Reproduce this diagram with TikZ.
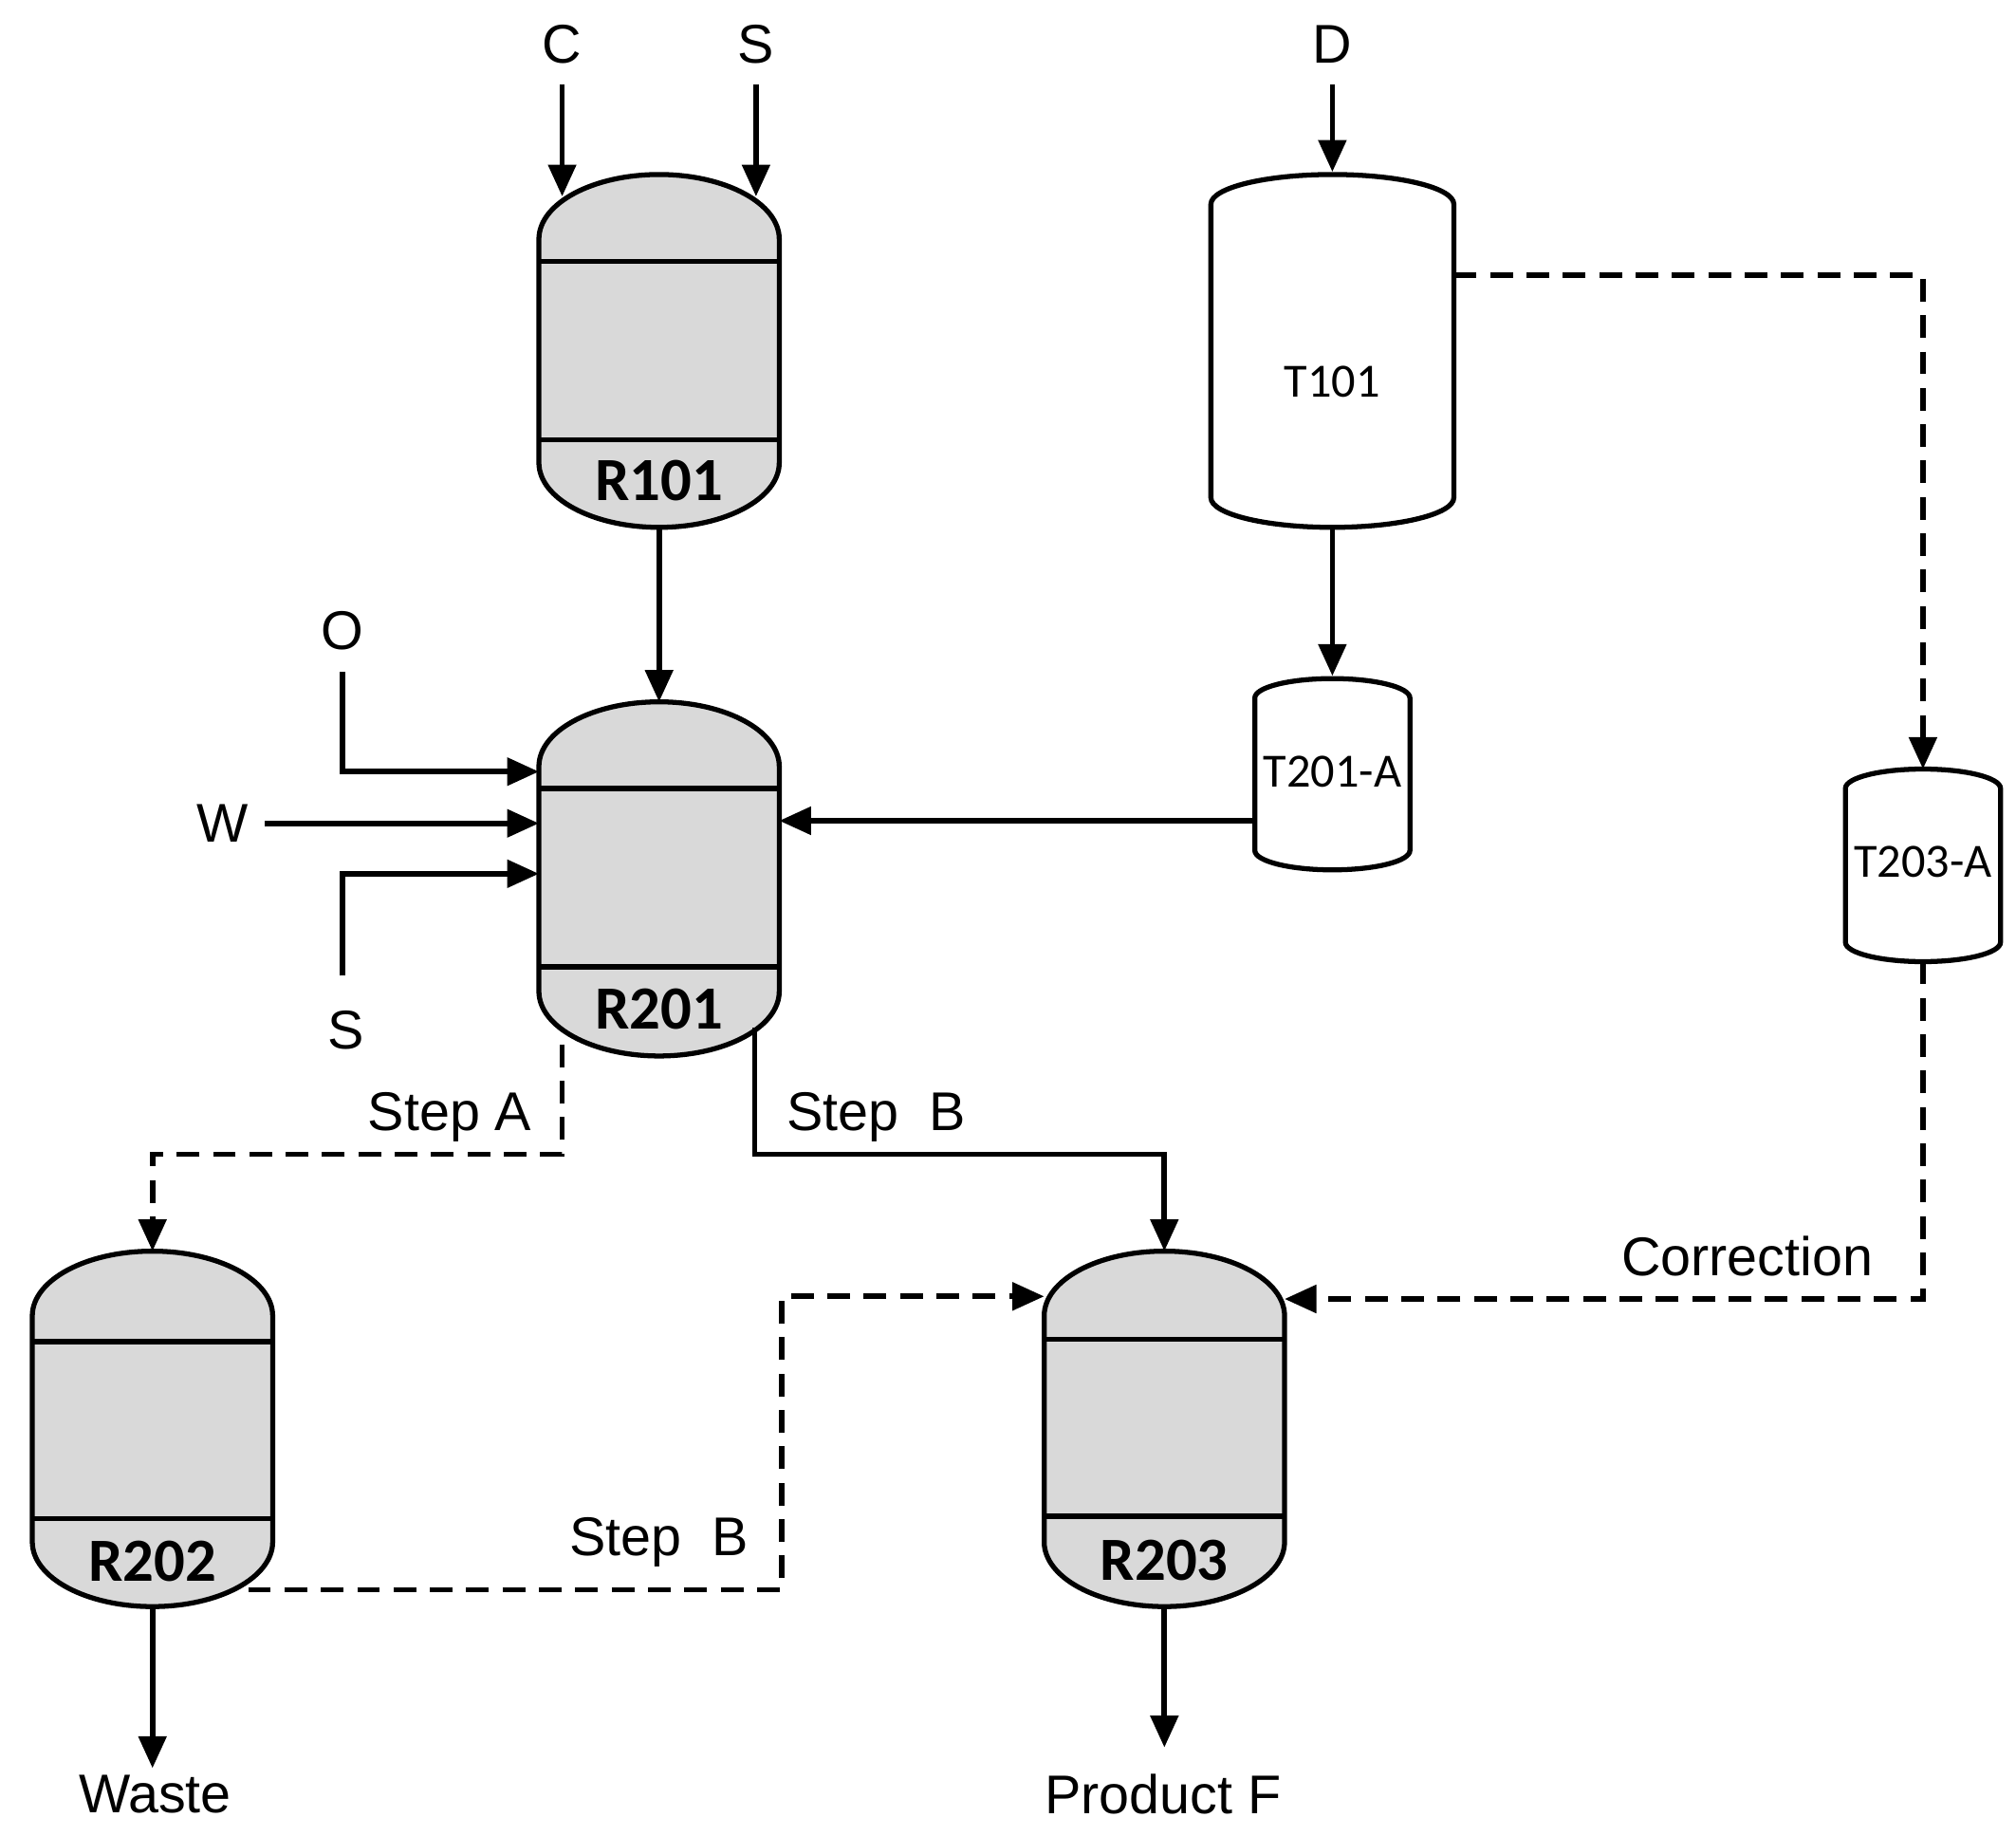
\documentclass[tikz,border=0pt]{standalone}
\usepackage{fontspec}
\setmainfont{Liberation Sans}
\newfontfamily\calib{Carlito}
\usetikzlibrary{arrows.meta}
\definecolor{vgray}{RGB}{217,217,217}
\tikzset{
  flow/.style={line width=1.2pt,-{Triangle[length=7pt,width=6pt]}},
  line/.style={line width=1.2pt},
  dflow/.style={flow,dash pattern=on 5pt off 3pt},
  lbl/.style={font=\fontsize{12}{14}\selectfont,inner sep=0pt},
  vlbl/.style={font=\calib\bfseries\fontsize{13.5}{15}\selectfont,inner sep=0pt},
  tlbl/.style={font=\calib\fontsize{10.5}{12}\selectfont,inner sep=0pt},
  shell/.style={line width=1.1pt}
}
% #1 cx, #2 top, #3 bottom, #4 ry, #5 fill, #6 half width
\newcommand\drawvessel[6]{%
  \filldraw[shell,fill=#5] ({#1-#6},{#2+#4}) arc[start angle=180,end angle=360,x radius=#6,y radius=#4]
    -- ({#1+#6},{#3-#4}) arc[start angle=0,end angle=180,x radius=#6,y radius=#4] -- cycle;}
\newcommand\bands[4]{% cx, y1, y2, hw
  \draw[shell] ({#1-#4},#2) -- ({#1+#4},#2) ({#1-#4},#3) -- ({#1+#4},#3);}
\begin{document}
\begin{tikzpicture}[x=0.01cm,y=-0.01cm]
\useasboundingbox (0,0) rectangle (1560,1420);
% vessels
\drawvessel{510}{135}{408}{50}{vgray}{93}\bands{510}{202}{340}{93}
\drawvessel{510}{543}{817}{50}{vgray}{93}\bands{510}{610}{748}{93}
\drawvessel{118}{968}{1243}{50}{vgray}{93}\bands{118}{1038}{1175}{93}
\drawvessel{901}{968}{1243}{50}{vgray}{93}\bands{901}{1036}{1173}{93}
\drawvessel{1031}{135}{408}{23}{white}{94}
\drawvessel{1031}{525}{673}{15}{white}{60}
\drawvessel{1488}{595}{744}{15}{white}{60}
\node[vlbl] (r101) at (510,372) {R101};
\node[vlbl] (r201) at (510,781) {R201};
\node[vlbl] (r202) at (118,1208) {R202};
\node[vlbl] (r203) at (901,1207) {R203};
\node[tlbl] (t101) at (1031,295) {T101};
\node[tlbl] (t201) at (1031,597) {T201-A};
\node[tlbl] (t203) at (1488,667) {T203-A};
% stream labels
\node[lbl] (c) at (435,34) {C};
\node[lbl] (s1) at (585,34) {S};
\node[lbl] (d) at (1031,34) {D};
\node[lbl] (o) at (265,488) {O};
\node[lbl] (w) at (172,637) {W};
\node[lbl] (s2) at (268,797) {S};
\node[lbl] (stepa) at (348,864) {Step A};
\node[lbl] (stepb1) at (678,864) {Step\ \ B};
\node[lbl] (stepb2) at (510,1193) {Step\ \ B};
\node[lbl] (corr) at (1352,972) {Correction};
\node[lbl] (waste) at (120,1388) {Waste};
\node[lbl] (prod) at (900,1388) {Product F};
% ports
\coordinate (cin) at (435,65); \coordinate (sin) at (585,65); \coordinate (din) at (1031,65);
\coordinate (oin) at (265,520); \coordinate (win) at (205,637); \coordinate (s2in) at (265,755);
\coordinate (r101in1) at (435,152); \coordinate (r101in2) at (585,152);
\coordinate (r101out) at (510,408); \coordinate (r201top) at (510,543);
\coordinate (t101top) at (1031,133); \coordinate (t101bot) at (1031,408);
\coordinate (t101side) at (1125,213); \coordinate (t201top) at (1031,523);
\coordinate (t201left) at (971,635); \coordinate (r201right) at (603,635);
\coordinate (t203top) at (1488,595); \coordinate (t203bot) at (1488,744);
\coordinate (r201a) at (417,597); \coordinate (r201b) at (417,637); \coordinate (r201c) at (417,676);
\coordinate (r201outa) at (435,808); \coordinate (r201outb) at (584,795);
\coordinate (r202top) at (118,968); \coordinate (r203top) at (901,968);
\coordinate (r202side) at (192,1230); \coordinate (r203left) at (808,1003);
\coordinate (r203right) at (994,1005);
\coordinate (r202bot) at (118,1243); \coordinate (r203bot) at (901,1243);
\coordinate (wasteend) at (118,1368); \coordinate (prodend) at (901,1352);
% connectors
\draw[flow] (cin) -- (r101in1);
\draw[flow] (sin) -- (r101in2);
\draw[flow] (din) -- (t101top);
\draw[flow] (r101out) -- (r201top);
\draw[flow] (t101bot) -- (t201top);
\draw[dflow] (t101side) -| (t203top);
\draw[flow] (t201left) -- (r201right);
\draw[flow] (oin) |- (r201a);
\draw[flow] (win) -- (r201b);
\draw[flow] (s2in) |- (r201c);
\draw[dflow] (r201outa) -- (435,893) -| (r202top);
\draw[flow] (r201outb) -- (584,893) -| (r203top);
\draw[dflow] (r202side) -- (605,1230) |- (r203left);
\draw[dflow] (t203bot) |- (r203right);
\draw[flow] (r202bot) -- (wasteend);
\draw[flow] (r203bot) -- (prodend);
\end{tikzpicture}
\end{document}
